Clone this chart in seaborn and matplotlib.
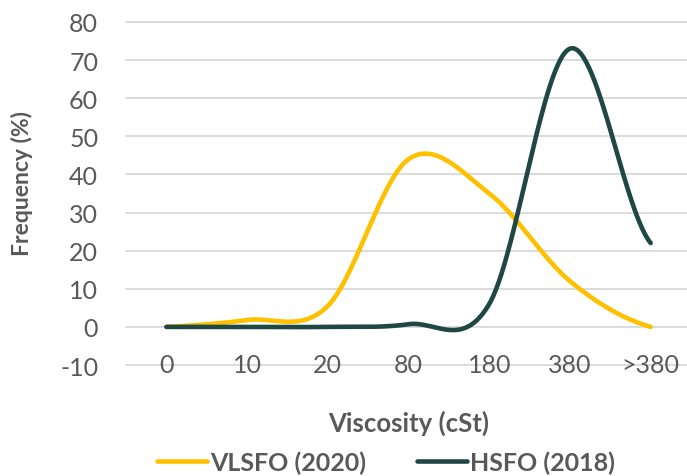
import numpy as np
import pandas as pd
import matplotlib
matplotlib.use("Agg")
import matplotlib.pyplot as plt
from matplotlib.lines import Line2D
import seaborn as sns

categories = ["0", "10", "20", "80", "180", "380", ">380"]
vlsfo = [0, 1.8, 5.5, 44, 35, 12, 0]
hsfo = [0, 0, 0, 0.7, 6, 73, 22]
series_names = ["VLSFO (2020)", "HSFO (2018)"]
colors = ["#FFC000", "#1F4744"]
y_ticks = [-10, 0, 10, 20, 30, 40, 50, 60, 70, 80]

sns.set_theme(style="white")
plt.rcParams["font.family"] = ["Lato", "DejaVu Sans"]
plt.rcParams["axes.unicode_minus"] = False
TXT = "#595959"


def smooth(vals, n=60):
    """Catmull-Rom smoothing like Excel's smoothed line."""
    v = np.asarray(vals, dtype=float)
    xs, ys = [], []
    for i in range(len(v) - 1):
        p0 = v[i - 1] if i > 0 else v[i]
        p1, p2 = v[i], v[i + 1]
        p3 = v[i + 2] if i + 2 < len(v) else v[i + 1]
        m1 = (p2 - p0) / 2
        m2 = (p3 - p1) / 2
        t = np.linspace(0, 1, n, endpoint=(i == len(v) - 2))
        h00 = 2 * t**3 - 3 * t**2 + 1
        h10 = t**3 - 2 * t**2 + t
        h01 = -2 * t**3 + 3 * t**2
        h11 = t**3 - t**2
        xs.append(i + t)
        ys.append(h00 * p1 + h10 * m1 + h01 * p2 + h11 * m2)
    return np.concatenate(xs), np.concatenate(ys)


frames = []
for name, vals in zip(series_names, [vlsfo, hsfo]):
    x, y = smooth(vals)
    frames.append(pd.DataFrame({"x": x, "y": y, "series": name}))
df = pd.concat(frames, ignore_index=True)

fig = plt.figure(figsize=(6.87, 4.77), dpi=100)
ax = fig.add_axes([126 / 687, (477 - 366) / 477, 1 - 126 / 687, (366 - 23) / 477])

sns.lineplot(data=df, x="x", y="y", hue="series", palette=colors, sort=False,
             estimator=None, linewidth=3.3, ax=ax, legend=False,
             solid_capstyle="round")

ax.set_xlim(-0.5, 6.45)
ax.set_ylim(-10, 80)
ax.set_yticks(y_ticks)
ax.set_xticks(range(len(categories)))
ax.set_xticklabels(categories)
for s in ax.spines.values():
    s.set_visible(False)
ax.grid(False)
for yv in y_ticks:
    ax.axhline(yv, color="#D9D9D9", linewidth=1.3, zorder=0, clip_on=False)

ax.tick_params(axis="y", length=0, pad=20, labelsize=18, labelcolor=TXT)
ax.tick_params(axis="x", length=0, pad=0, labelsize=18, labelcolor=TXT)
for lab in ax.get_xticklabels():
    lab.set_va("center")

ax.set_ylabel("Frequency (%)", fontsize=16.5, fontweight="bold", color=TXT)
ax.yaxis.set_label_coords((33 - 126) / 561, (366 - 183) / 343)
ax.set_xlabel("Viscosity (cSt)", fontsize=18.5, fontweight="bold", color=TXT)
ax.xaxis.set_label_coords((409 - 126) / 561, (366 - 411) / 343)

handles = [Line2D([], [], color=c, linewidth=3.3, solid_capstyle="round") for c in colors]
leg = fig.legend(handles, series_names, loc="center", bbox_to_anchor=(386 / 687, (477 - 463) / 477),
                 ncol=2, frameon=False, handlelength=2.0, handletextpad=0.15,
                 columnspacing=2.0, prop={"weight": "bold", "size": 18})
for t in leg.get_texts():
    t.set_color(TXT)

fig.savefig("out.png", dpi=100)
